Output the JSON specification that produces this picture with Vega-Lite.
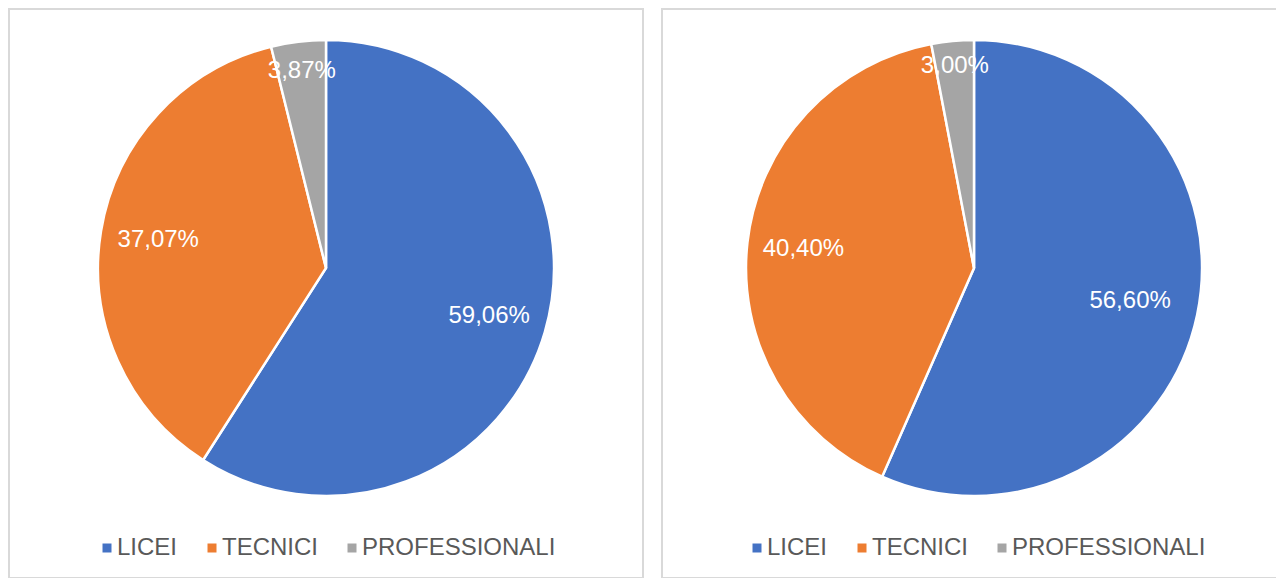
{
  "$schema": "https://vega.github.io/schema/vega-lite/v6.json",
  "padding": {"left": 8, "top": 8, "right": 0, "bottom": 0},
  "background": "white",
  "config": {
    "view": {"stroke": "#D9D9D9", "strokeWidth": 2},
    "font": "Liberation Sans",
    "legend": {
      "orient": "none",
      "direction": "horizontal",
      "title": null,
      "padding": 0,
      "symbolType": "square",
      "symbolSize": 81,
      "symbolStrokeWidth": 0,
      "labelFont": "Liberation Sans",
      "labelFontSize": 24,
      "labelColor": "#595959",
      "labelOffset": -2,
      "labelLimit": 0,
      "columnPadding": 22,
      "legendY": 527
    }
  },
  "data": {
    "values": [
      {"panel": "A", "cat": "LICEI", "ord": 1, "pct": 59.06, "lab": "59,06%"},
      {"panel": "A", "cat": "TECNICI", "ord": 2, "pct": 37.07, "lab": "37,07%"},
      {"panel": "A", "cat": "PROFESSIONALI", "ord": 3, "pct": 3.87, "lab": "3,87%"},
      {"panel": "B", "cat": "LICEI", "ord": 1, "pct": 56.60, "lab": "56,60%"},
      {"panel": "B", "cat": "TECNICI", "ord": 2, "pct": 40.40, "lab": "40,40%"},
      {"panel": "B", "cat": "PROFESSIONALI", "ord": 3, "pct": 3.00, "lab": "3,00%"}
    ]
  },
  "spacing": 17,
  "resolve": {"legend": {"color": "independent"}, "scale": {"color": "independent", "radius": "independent", "theta": "independent"}},
  "hconcat": [
    {
      "width": 634,
      "height": 569,
      "transform": [{"filter": "datum.panel === 'A'"}],
      "encoding": {
        "theta": {"field": "pct", "type": "quantitative", "stack": true},
        "order": {"field": "ord", "type": "quantitative"},
        "y": {"value": 259}
      },
      "layer": [
        {
          "mark": {"type": "arc", "outerRadius": 228, "stroke": "white", "strokeWidth": 2.5},
          "encoding": {
            "color": {
              "field": "cat", "type": "nominal",
              "sort": ["LICEI", "TECNICI", "PROFESSIONALI"],
              "scale": {"domain": ["LICEI", "TECNICI", "PROFESSIONALI"], "range": ["#4472C4", "#ED7D31", "#A5A5A5"]},
              "legend": {"legendX": 86}
            }
          }
        },
        {
          "mark": {"type": "text", "fontSize": 24, "color": "white", "align": "center", "baseline": "middle"},
          "encoding": {
            "text": {"field": "lab"},
            "radius": {"field": "pct", "type": "quantitative", "scale": {"domain": [3, 10, 60], "range": [203, 170, 170], "clamp": true}}
          }
        }
      ]
    },
    {
      "width": 616,
      "height": 569,
      "transform": [{"filter": "datum.panel === 'B'"}],
      "encoding": {
        "theta": {"field": "pct", "type": "quantitative", "stack": true},
        "order": {"field": "ord", "type": "quantitative"},
        "x": {"value": 312},
        "y": {"value": 259}
      },
      "layer": [
        {
          "mark": {"type": "arc", "outerRadius": 228, "stroke": "white", "strokeWidth": 2.5},
          "encoding": {
            "color": {
              "field": "cat", "type": "nominal",
              "sort": ["LICEI", "TECNICI", "PROFESSIONALI"],
              "scale": {"domain": ["LICEI", "TECNICI", "PROFESSIONALI"], "range": ["#4472C4", "#ED7D31", "#A5A5A5"]},
              "legend": {"legendX": 83}
            }
          }
        },
        {
          "mark": {"type": "text", "fontSize": 24, "color": "white", "align": "center", "baseline": "middle"},
          "encoding": {
            "text": {"field": "lab"},
            "radius": {"field": "pct", "type": "quantitative", "scale": {"domain": [3, 10, 40, 60], "range": [203, 172, 172, 157], "clamp": true}}
          }
        }
      ]
    }
  ]
}
